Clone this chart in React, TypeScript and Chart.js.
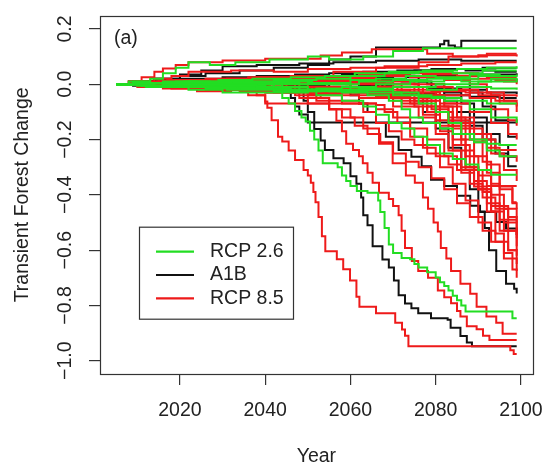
import React, { useEffect, useRef } from 'react';
import { Chart, registerables } from 'chart.js';

Chart.register(...registerables);

// ---- data (year, value pairs; each run is a step series) ----
const xTickValues = [2020, 2040, 2060, 2080, 2100];
const yTickValues = [-1.0, -0.8, -0.6, -0.4, -0.2, 0.0, 0.2];
const scenarioLabels = ['RCP 2.6', 'A1B', 'RCP 8.5'];
const panelLabel = '(a)';
const xTitle = 'Year';
const yTitle = 'Transient Forest Change';

const rcp26Runs: number[][] = [
  [2005,0, 2008,0.01, 2013,0.005, 2020,0.0, 2030,-0.005, 2038,-0.01, 2042,-0.02, 2044,-0.05, 2045.5,-0.07, 2047,-0.097, 2048.5,-0.12, 2049.5,-0.135, 2050.5,-0.168, 2051.5,-0.2, 2052.5,-0.24, 2053.5,-0.286, 2057,-0.3, 2058,-0.33, 2059,-0.35, 2060,-0.368, 2061.5,-0.386, 2064,-0.392, 2066.5,-0.42, 2067,-0.462, 2068,-0.52, 2069,-0.58, 2070,-0.61, 2072,-0.628, 2074,-0.633, 2075,-0.65, 2076,-0.663, 2078,-0.68, 2080,-0.699, 2081,-0.716, 2082,-0.73, 2083,-0.746, 2084,-0.765, 2085,-0.781, 2086,-0.8, 2087,-0.822, 2098,-0.846, 2099,-0.846],
  [2005,0, 2009,0.01, 2013,0.02, 2016,0.04, 2019,0.06, 2022,0.08, 2027,0.07, 2033,0.08, 2041,0.09, 2050,0.1, 2055,0.09, 2063,0.1, 2070,0.12, 2077,0.13, 2099,0.13],
  [2005,0, 2010,0.005, 2018,-0.005, 2030,0.0, 2042,-0.01, 2050,-0.02, 2058,-0.03, 2064,-0.04, 2069,-0.06, 2072,-0.09, 2074,-0.12, 2077,-0.14, 2081,-0.16, 2084,-0.18, 2088,-0.2, 2092,-0.215, 2095,-0.22, 2099,-0.22],
  [2005,0, 2011,-0.005, 2020,0.005, 2032,0.0, 2044,-0.02, 2052,-0.04, 2058,-0.06, 2063,-0.08, 2066,-0.11, 2069,-0.14, 2072,-0.16, 2075,-0.19, 2078,-0.22, 2081,-0.25, 2084,-0.27, 2087,-0.29, 2090,-0.31, 2093,-0.327, 2099,-0.327],
  [2005,0, 2012,0.005, 2022,0.01, 2035,0.005, 2048,0.0, 2060,-0.02, 2070,-0.04, 2076,-0.07, 2080,-0.1, 2083,-0.14, 2086,-0.18, 2089,-0.21, 2092,-0.24, 2095,-0.26, 2099,-0.26],
  [2005,0, 2009,0.005, 2016,0.01, 2024,0.005, 2032,0.01, 2042,0.015, 2052,0.02, 2060,0.03, 2068,0.04, 2076,0.045, 2084,0.04, 2091,0.05, 2099,0.05],
  [2005,0, 2010,-0.005, 2017,-0.01, 2026,-0.015, 2034,-0.01, 2044,-0.02, 2052,-0.015, 2058,-0.01, 2066,0.0, 2074,0.01, 2082,0.02, 2090,0.03, 2099,0.035],
  [2005,0, 2009,0.005, 2016,0.0, 2024,-0.01, 2033,-0.005, 2040,0.0, 2050,0.005, 2056,0.0, 2062,0.01, 2070,0.015, 2078,0.02, 2086,0.01, 2093,0.02, 2099,0.015],
  [2005,0, 2013,0.005, 2021,0.01, 2029,0.015, 2037,0.02, 2046,0.025, 2054,0.03, 2061,0.04, 2069,0.045, 2077,0.05, 2085,0.055, 2092,0.06, 2099,0.065],
  [2005,0, 2012,-0.005, 2022,-0.01, 2032,-0.015, 2040,-0.01, 2048,-0.02, 2057,-0.025, 2064,-0.03, 2072,-0.04, 2079,-0.05, 2086,-0.06, 2092,-0.07, 2099,-0.07],
  [2005,0, 2010,0.005, 2019,0.01, 2027,0.005, 2035,0.01, 2043,0.01, 2051,0.005, 2060,0.015, 2066,0.02, 2073,0.03, 2080,0.025, 2088,0.035, 2095,0.03, 2099,0.03],
  [2005,0, 2014,-0.005, 2026,-0.01, 2038,-0.015, 2046,-0.02, 2055,-0.025, 2063,-0.02, 2070,-0.03, 2076,-0.045, 2082,-0.06, 2088,-0.09, 2093,-0.12, 2099,-0.14],
  [2005,0, 2011,-0.005, 2020,-0.01, 2031,-0.02, 2042,-0.025, 2053,-0.02, 2062,-0.015, 2070,-0.01, 2078,-0.02, 2085,-0.01, 2093,-0.015, 2099,-0.02],
  [2005,0, 2012,-0.01, 2022,-0.02, 2030,-0.03, 2040,-0.03, 2050,-0.025, 2060,-0.02, 2070,-0.01, 2080,0.0, 2090,0.01, 2099,0.02],
];

const a1bRuns: number[][] = [
  [2005,0, 2009,0.01, 2016,0.005, 2024,0.0, 2033,-0.005, 2041,-0.01, 2044.5,-0.02, 2046,-0.05, 2047,-0.08, 2048,-0.109, 2050,-0.138, 2051.5,-0.162, 2053,-0.203, 2054,-0.238, 2056,-0.268, 2058.4,-0.286, 2060,-0.333, 2061.4,-0.36, 2062.5,-0.41, 2063,-0.474, 2064,-0.51, 2065.2,-0.586, 2067.5,-0.634, 2069,-0.663, 2070.2,-0.71, 2071.3,-0.763, 2072.8,-0.793, 2074.3,-0.81, 2075.9,-0.828, 2078.9,-0.846, 2082.8,-0.852, 2083.5,-0.881, 2085.8,-0.911, 2087.3,-0.934, 2088.5,-0.948, 2099,-0.948],
  [2005,0, 2010,0.005, 2019,0.0, 2030,-0.005, 2040,-0.01, 2047,-0.02, 2049,-0.06, 2050,-0.1, 2051.5,-0.138, 2099,-0.138],
  [2005,0, 2012,-0.005, 2022,0.0, 2032,-0.01, 2044,-0.015, 2054,-0.02, 2060,-0.04, 2062,-0.07, 2064,-0.1, 2066,-0.14, 2068.3,-0.19, 2071.3,-0.238, 2074.3,-0.262, 2076.7,-0.297, 2078.9,-0.345, 2082,-0.368, 2085,-0.403, 2088.1,-0.439, 2090.4,-0.462, 2094.2,-0.498, 2096.5,-0.522, 2099,-0.545],
  [2005,0, 2011,0.005, 2020,0.01, 2030,0.005, 2042,0.0, 2055,-0.01, 2066,-0.03, 2072,-0.05, 2077,-0.1, 2080,-0.16, 2083,-0.23, 2086,-0.31, 2088,-0.38, 2090,-0.46, 2091.5,-0.52, 2092.5,-0.6, 2094.2,-0.675, 2096.5,-0.722, 2098.4,-0.74, 2099,-0.757],
  [2005,0, 2008,0.01, 2014,0.02, 2020,0.03, 2026,0.04, 2034,0.05, 2042,0.06, 2050,0.07, 2055,0.09, 2060,0.1, 2066,0.133, 2081,0.145, 2082,0.157, 2083,0.14, 2084.5,0.133, 2086,0.157, 2099,0.157],
  [2005,0, 2010,0.005, 2018,0.01, 2028,0.015, 2038,0.02, 2048,0.03, 2058,0.035, 2066,0.04, 2072,0.03, 2076,0.01, 2079,-0.02, 2082,-0.06, 2085,-0.1, 2088,-0.15, 2091,-0.2, 2094,-0.25, 2097,-0.297, 2099,-0.297],
  [2005,0, 2009,0.0, 2016,0.005, 2026,0.01, 2036,0.015, 2046,0.02, 2056,0.02, 2064,0.015, 2072,0.01, 2078,0.0, 2082,-0.03, 2086,-0.07, 2089,-0.12, 2092,-0.18, 2095,-0.22, 2097,-0.262, 2099,-0.262],
  [2005,0, 2013,0.005, 2022,0.01, 2032,0.015, 2042,0.02, 2052,0.02, 2062,0.025, 2070,0.03, 2078,0.03, 2084,0.015, 2088,-0.03, 2091,-0.08, 2094,-0.13, 2097,-0.19, 2099,-0.19],
  [2005,0, 2011,0.005, 2019,0.01, 2027,0.015, 2035,0.02, 2043,0.02, 2051,0.025, 2059,0.03, 2067,0.04, 2075,0.05, 2083,0.055, 2091,0.06, 2099,0.06],
  [2005,0, 2010,0.005, 2017,0.0, 2025,0.005, 2033,0.0, 2041,0.01, 2049,0.015, 2057,0.01, 2065,0.02, 2073,0.025, 2081,0.03, 2089,0.035, 2099,0.04],
  [2005,0, 2012,0.01, 2020,0.02, 2030,0.025, 2038,0.03, 2047,0.035, 2055,0.04, 2063,0.045, 2071,0.05, 2079,0.055, 2087,0.05, 2094,0.045, 2099,0.045],
  [2005,0, 2009,-0.005, 2016,-0.01, 2024,-0.015, 2034,-0.02, 2044,-0.02, 2054,-0.025, 2064,-0.03, 2072,-0.035, 2080,-0.04, 2088,-0.045, 2095,-0.05, 2099,-0.05],
  [2005,0, 2014,0.005, 2024,0.0, 2034,0.005, 2044,-0.005, 2054,0.0, 2062,-0.005, 2070,-0.01, 2078,-0.015, 2086,-0.02, 2092,-0.03, 2099,-0.035],
  [2005,0, 2009,0.01, 2014,0.02, 2020,0.035, 2025,0.05, 2030,0.065, 2038,0.07, 2048,0.075, 2056,0.08, 2066,0.085, 2076,0.09, 2086,0.085, 2099,0.085],
];

const rcp85Runs: number[][] = [
  [2005,0, 2008,0.01, 2012,0.005, 2018,0.0, 2026,-0.005, 2033,-0.01, 2036,-0.026, 2038,-0.04, 2040,-0.062, 2040.5,-0.085, 2041.5,-0.13, 2043,-0.19, 2044,-0.207, 2045.5,-0.24, 2047,-0.274, 2049,-0.31, 2050,-0.33, 2050.7,-0.356, 2051.3,-0.39, 2051.8,-0.427, 2052.5,-0.48, 2053.3,-0.55, 2054.1,-0.604, 2056.8,-0.633, 2058.3,-0.669, 2059.9,-0.71, 2061.4,-0.769, 2062.1,-0.805, 2066,-0.828, 2070.5,-0.863, 2072.1,-0.887, 2072.8,-0.91, 2073.6,-0.948, 2097.5,-0.962, 2098.3,-0.976, 2099,-0.976],
  [2005,0, 2009,0.005, 2015,0.01, 2022,0.0, 2030,-0.005, 2038,-0.01, 2045,-0.02, 2050,-0.03, 2053,-0.05, 2055,-0.09, 2056.7,-0.132, 2058,-0.17, 2059,-0.215, 2060.6,-0.238, 2062,-0.26, 2062.9,-0.286, 2064,-0.32, 2065.2,-0.356, 2066.7,-0.392, 2069,-0.415, 2070,-0.44, 2071.3,-0.474, 2072,-0.53, 2072.8,-0.592, 2074.4,-0.639, 2075.9,-0.675, 2078.2,-0.7, 2080.5,-0.746, 2082,-0.77, 2083.6,-0.792, 2085,-0.82, 2085.8,-0.84, 2087.3,-0.875, 2089.6,-0.886, 2091.1,-0.91, 2092.6,-0.925, 2099,-0.925],
  [2005,0, 2010,0.01, 2017,0.015, 2026,0.01, 2035,0.0, 2045,-0.03, 2050,-0.07, 2055,-0.09, 2060,-0.12, 2063,-0.16, 2066.7,-0.215, 2069.9,-0.286, 2073,-0.33, 2075.1,-0.356, 2077,-0.41, 2078.2,-0.45, 2079.5,-0.5, 2080.5,-0.533, 2081.2,-0.592, 2082.5,-0.63, 2083.6,-0.675, 2085.8,-0.722, 2088.1,-0.758, 2089.6,-0.805, 2091.9,-0.84, 2094.2,-0.863, 2095.7,-0.902, 2099,-0.902],
  [2005,0, 2010,0.005, 2020,0.0, 2030,-0.005, 2040,-0.02, 2047,-0.04, 2052,-0.06, 2055,-0.09, 2058,-0.12, 2061,-0.15, 2064,-0.18, 2067,-0.21, 2070,-0.25, 2073,-0.28, 2076,-0.3, 2079,-0.34, 2082,-0.38, 2085,-0.43, 2088,-0.48, 2091,-0.53, 2094,-0.57, 2097,-0.6, 2099,-0.62],
  [2005,0, 2012,0.005, 2022,0.01, 2032,0.005, 2042,-0.01, 2050,-0.04, 2058,-0.07, 2063,-0.1, 2066,-0.14, 2069,-0.17, 2072,-0.2, 2075,-0.22, 2078,-0.25, 2081,-0.3, 2084,-0.36, 2087,-0.42, 2090,-0.5, 2093,-0.57, 2096,-0.63, 2099,-0.675],
  [2005,0, 2011,-0.005, 2020,0.0, 2030,-0.01, 2040,-0.03, 2048,-0.05, 2055,-0.06, 2062,-0.07, 2066,-0.09, 2070,-0.12, 2074,-0.16, 2078,-0.2, 2082,-0.26, 2085,-0.31, 2088,-0.36, 2091,-0.41, 2094,-0.45, 2097,-0.48, 2099,-0.5],
  [2005,0, 2010,0.0, 2018,-0.01, 2028,-0.02, 2036,-0.04, 2040,-0.07, 2066,-0.075, 2068,-0.1, 2071,-0.14, 2074,-0.19, 2077,-0.23, 2080,-0.26, 2083,-0.29, 2086,-0.32, 2089,-0.35, 2092,-0.368, 2099,-0.368],
  [2005,0, 2010,0.005, 2020,0.01, 2030,0.01, 2040,0.005, 2050,0.0, 2060,-0.02, 2068,-0.04, 2074,-0.07, 2078,-0.1, 2081,-0.15, 2084,-0.22, 2087,-0.3, 2090,-0.38, 2093,-0.46, 2096,-0.53, 2099,-0.586],
  [2005,0, 2009,0.005, 2017,0.01, 2027,0.015, 2037,0.02, 2047,0.015, 2057,0.01, 2065,0.0, 2072,-0.03, 2077,-0.06, 2081,-0.1, 2084,-0.16, 2087,-0.24, 2089,-0.31, 2091,-0.39, 2093,-0.46, 2095,-0.53, 2097,-0.6, 2099,-0.65],
  [2005,0, 2013,0.005, 2023,0.0, 2033,-0.01, 2043,-0.02, 2053,-0.03, 2062,-0.05, 2070,-0.08, 2076,-0.12, 2080,-0.18, 2083,-0.24, 2086,-0.3, 2089,-0.37, 2092,-0.43, 2095,-0.49, 2099,-0.557],
  [2005,0, 2010,0.005, 2019,0.01, 2029,0.015, 2039,0.015, 2049,0.01, 2059,0.0, 2067,-0.02, 2074,-0.05, 2079,-0.09, 2083,-0.14, 2086,-0.2, 2089,-0.26, 2092,-0.32, 2095,-0.38, 2098,-0.427, 2099,-0.427],
  [2005,0, 2012,0.005, 2021,0.01, 2031,0.02, 2041,0.015, 2051,0.01, 2060,-0.01, 2068,-0.03, 2075,-0.06, 2080,-0.1, 2083,-0.15, 2086,-0.22, 2088,-0.3, 2090,-0.38, 2092,-0.46, 2094,-0.54, 2096,-0.61, 2098,-0.67, 2099,-0.7],
  [2005,0, 2011,0.0, 2021,0.005, 2031,0.0, 2041,-0.01, 2051,-0.02, 2061,-0.03, 2069,-0.05, 2075,-0.08, 2080,-0.13, 2084,-0.2, 2087,-0.26, 2090,-0.33, 2093,-0.4, 2096,-0.45, 2099,-0.486],
  [2005,0, 2010,0.005, 2018,0.01, 2028,0.005, 2038,0.0, 2048,-0.01, 2058,-0.02, 2066,-0.04, 2072,-0.07, 2077,-0.11, 2081,-0.17, 2084,-0.24, 2087,-0.31, 2090,-0.38, 2093,-0.44, 2096,-0.5, 2099,-0.545],
  [2005,0, 2009,0.005, 2017,0.0, 2027,-0.005, 2037,0.0, 2047,-0.01, 2057,-0.02, 2065,-0.03, 2072,-0.05, 2078,-0.08, 2083,-0.12, 2087,-0.16, 2091,-0.2, 2094,-0.238, 2099,-0.238],
  [2005,0, 2012,0.005, 2020,0.01, 2030,0.015, 2040,0.02, 2050,0.015, 2060,0.01, 2068,-0.01, 2075,-0.04, 2080,-0.08, 2084,-0.13, 2088,-0.18, 2092,-0.23, 2095,-0.26, 2099,-0.28],
  [2005,0, 2008,0.01, 2011,0.025, 2014,0.045, 2016,0.057, 2019,0.07, 2022,0.08, 2030,0.086, 2040,0.092, 2053,0.104, 2058,0.115, 2065,0.127, 2076,0.127, 2078,0.11, 2084,0.1, 2092,0.11, 2099,0.11],
  [2005,0, 2010,0.01, 2014,0.02, 2018,0.03, 2022,0.045, 2032,0.05, 2042,0.045, 2050,0.055, 2060,0.06, 2068,0.065, 2078,0.07, 2086,0.075, 2094,0.08, 2099,0.08],
  [2005,0, 2009,0.005, 2015,0.01, 2022,0.015, 2030,0.02, 2038,0.025, 2046,0.03, 2054,0.03, 2062,0.035, 2070,0.03, 2078,0.025, 2086,0.02, 2094,0.015, 2099,0.01],
  [2005,0, 2010,0.0, 2018,0.005, 2026,0.01, 2034,0.015, 2042,0.02, 2050,0.02, 2058,0.025, 2066,0.03, 2074,0.025, 2082,0.015, 2088,0.0, 2092,-0.03, 2096,-0.06, 2099,-0.08],
  [2005,0, 2012,-0.005, 2020,-0.01, 2028,-0.005, 2036,0.0, 2044,0.005, 2052,0.01, 2060,0.005, 2068,0.0, 2076,-0.01, 2084,-0.02, 2090,-0.04, 2095,-0.07, 2099,-0.1],
  [2005,0, 2011,0.005, 2019,0.01, 2027,0.005, 2035,0.01, 2043,0.02, 2051,0.025, 2059,0.02, 2067,0.01, 2075,0.0, 2082,-0.02, 2088,-0.05, 2093,-0.09, 2097,-0.13, 2099,-0.15],
  [2005,0, 2013,0.005, 2021,0.01, 2029,0.01, 2037,0.015, 2045,0.02, 2053,0.025, 2061,0.03, 2069,0.03, 2077,0.035, 2085,0.03, 2092,0.025, 2099,0.025],
  [2005,0, 2010,-0.01, 2018,-0.015, 2026,-0.02, 2034,-0.025, 2042,-0.03, 2050,-0.035, 2058,-0.04, 2066,-0.045, 2074,-0.05, 2082,-0.07, 2088,-0.1, 2093,-0.14, 2097,-0.18, 2099,-0.2],
  [2005,0, 2009,0.005, 2016,0.01, 2024,0.015, 2032,0.01, 2040,0.015, 2048,0.02, 2056,0.015, 2064,0.01, 2070,0.0, 2076,-0.03, 2081,-0.07, 2085,-0.12, 2089,-0.18, 2093,-0.25, 2096,-0.31, 2099,-0.35],
  [2005,0, 2012,0.005, 2022,0.01, 2030,0.015, 2040,0.02, 2050,0.025, 2058,0.03, 2066,0.035, 2074,0.04, 2082,0.04, 2090,0.03, 2096,0.01, 2099,0.0],
  [2005,0, 2011,0.005, 2018,0.01, 2026,0.02, 2036,0.025, 2046,0.03, 2056,0.045, 2066,0.06, 2076,0.08, 2083,0.1, 2090,0.105, 2099,0.1],
  [2005,0, 2010,0.005, 2020,0.0, 2030,0.005, 2040,0.0, 2050,-0.01, 2060,-0.03, 2070,-0.06, 2078,-0.1, 2084,-0.15, 2088,-0.2, 2091,-0.28, 2093,-0.36, 2095,-0.44, 2097,-0.53, 2099,-0.6],
  [2005,0, 2012,0.005, 2022,0.01, 2032,0.015, 2042,0.02, 2052,0.015, 2062,0.01, 2070,-0.01, 2077,-0.04, 2082,-0.08, 2086,-0.14, 2089,-0.21, 2092,-0.29, 2095,-0.37, 2098,-0.43, 2099,-0.45],
  [2005,0, 2010,-0.005, 2016,-0.015, 2024,-0.025, 2032,-0.02, 2040,-0.03, 2048,-0.025, 2056,-0.03, 2064,-0.035, 2072,-0.03, 2080,-0.04, 2088,-0.05, 2094,-0.06, 2099,-0.06],
  [2005,0, 2011,0.005, 2017,-0.005, 2023,-0.01, 2031,-0.015, 2039,-0.01, 2047,-0.02, 2055,-0.015, 2063,-0.01, 2071,-0.02, 2079,-0.025, 2087,-0.03, 2093,-0.04, 2099,-0.045],
];

// ---- styles ----
const COLORS = { rcp26: '#22dd22', a1b: '#111111', rcp85: '#ee1a1a' };
const FONT = { family: '"Liberation Sans", Arial, sans-serif', size: 19.5 };
const AXIS_COLOR = '#333333';
const TEXT_COLOR = '#222222';

function toPoints(run: number[]) {
  const pts: { x: number; y: number }[] = [];
  for (let i = 0; i < run.length; i += 2) pts.push({ x: run[i], y: run[i + 1] });
  return pts;
}

function fmtY(v: number) {
  const s = (Math.abs(v) < 1e-9 ? 0 : v).toFixed(1);
  return s.replace('-', '\u2212');
}

const decorPlugin = {
  id: 'decor',
  afterDraw(chart: any) {
    const { ctx, chartArea: a } = chart;
    ctx.save();
    ctx.strokeStyle = AXIS_COLOR;
    ctx.lineWidth = 1.2;
    ctx.strokeRect(Math.round(a.left) + 0.5, Math.round(a.top) + 0.5, Math.round(a.right - a.left), Math.round(a.bottom - a.top));
    ctx.font = `${FONT.size}px ${FONT.family}`;
    ctx.fillStyle = TEXT_COLOR;
    ctx.textBaseline = 'middle';
    ctx.textAlign = 'left';
    ctx.fillText(panelLabel, a.left + 14, a.top + 23);
    const lx = a.left + 39, ly = a.top + 211, lw = 154, lh = 92;
    ctx.fillStyle = '#ffffff';
    ctx.fillRect(lx, ly, lw, lh);
    ctx.strokeStyle = AXIS_COLOR;
    ctx.lineWidth = 1.2;
    ctx.strokeRect(lx + 0.5, ly + 0.5, lw, lh);
    const cols = [COLORS.rcp26, COLORS.a1b, COLORS.rcp85];
    scenarioLabels.forEach((lab, i) => {
      const yy = ly + 25 + i * 23.3;
      ctx.strokeStyle = cols[i];
      ctx.lineWidth = 2.2;
      ctx.beginPath();
      ctx.moveTo(lx + 17, yy);
      ctx.lineTo(lx + 55, yy);
      ctx.stroke();
      ctx.fillStyle = TEXT_COLOR;
      ctx.fillText(lab, lx + 71, yy);
    });
    ctx.restore();
  },
};

export default function App() {
  const ref = useRef<HTMLCanvasElement>(null);
  useEffect(() => {
    if (!ref.current) return;
    const groups = [
      { runs: rcp26Runs, color: COLORS.rcp26 },
      { runs: rcp85Runs, color: COLORS.rcp85 },
      { runs: a1bRuns, color: COLORS.a1b },
    ];
    const datasets: any[] = [];
    groups.forEach((g) =>
      g.runs.forEach((run) =>
        datasets.push({
          data: toPoints(run),
          borderColor: g.color,
          borderWidth: 2,
          pointRadius: 0,
          stepped: true,
          fill: false,
        })
      )
    );
    const grid = {
      display: true,
      drawOnChartArea: false,
      drawTicks: true,
      tickLength: 11,
      color: AXIS_COLOR,
      lineWidth: 1.2,
    };
    const chart = new Chart(ref.current, {
      type: 'line',
      data: { datasets },
      plugins: [decorPlugin],
      options: {
        responsive: false,
        animation: false,
        devicePixelRatio: 1,
        events: [],
        layout: { padding: { top: 9, right: 13, left: 0, bottom: 0 } },
        plugins: { legend: { display: false }, tooltip: { enabled: false } },
        scales: {
          x: {
            type: 'linear',
            min: 2001.24,
            max: 2102.76,
            afterBuildTicks: (s: any) => { s.ticks = xTickValues.map((v) => ({ value: v })); },
            afterFit: (s: any) => { s.height = 98; },
            grid,
            border: { display: false },
            ticks: { font: FONT, color: TEXT_COLOR, padding: 14, maxRotation: 0, autoSkip: false, callback: (v: any) => String(v) },
            title: { display: true, text: xTitle, font: FONT, color: TEXT_COLOR, padding: { top: 0, bottom: 3.6 } },
          },
          y: {
            type: 'linear',
            min: -1.048,
            max: 0.248,
            afterBuildTicks: (s: any) => { s.ticks = yTickValues.map((v) => ({ value: v })); },
            afterFit: (s: any) => { s.width = 100; },
            grid,
            border: { display: false },
            ticks: { font: FONT, color: TEXT_COLOR, padding: 4, minRotation: 90, maxRotation: 90, crossAlign: 'center', autoSkip: false, callback: (v: any) => fmtY(Number(v)) },
            title: { display: true, text: yTitle, font: FONT, color: TEXT_COLOR, padding: { top: 10.6, bottom: 0 } },
          },
        },
      } as any,
    });
    return () => chart.destroy();
  }, []);
  return (
    <div style={{ position: 'absolute', left: 0, top: 0, width: 557, height: 472, background: '#ffffff' }}>
      <canvas ref={ref} width={557} height={472} style={{ display: 'block', width: 557, height: 472 }} />
    </div>
  );
}
